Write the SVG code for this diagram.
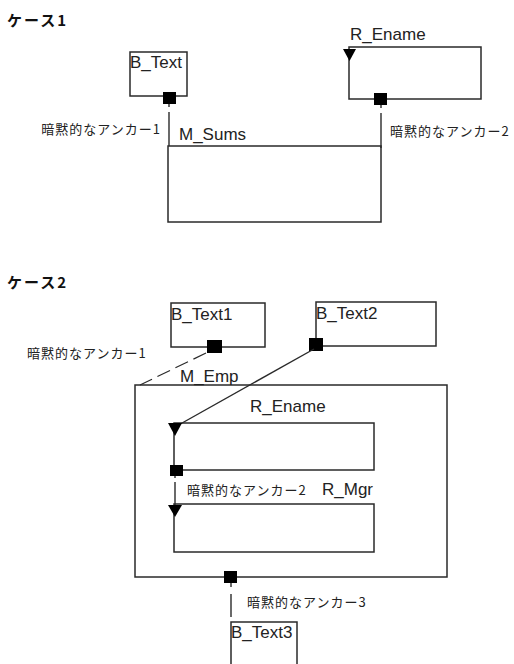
<svg xmlns="http://www.w3.org/2000/svg" width="514" height="664" viewBox="0 0 514 664">
<style>
.bg{fill:#ffffff}
.box{fill:#ffffff;stroke:#2a2a2a;stroke-width:1.5}
.ln{stroke:#2a2a2a;stroke-width:1.4;fill:none}
.dash{stroke:#2a2a2a;stroke-width:1.2;fill:none;stroke-dasharray:14 6}
.anc{fill:#000000}
.tri{fill:#000000}
.title{font-family:"Noto Sans CJK JP","Noto Sans",sans-serif;font-weight:bold;font-size:15px;letter-spacing:2px;fill:#111}
.lbl{font-family:"Liberation Sans",Arial,sans-serif;font-size:17px;fill:#222}
.jp{font-family:"Noto Sans CJK JP",sans-serif;font-size:13px;letter-spacing:1px;fill:#222}
</style>
<rect class="bg" x="0" y="0" width="514" height="664"/>

<text class="title" x="7" y="26">ケース1</text>
<text class="title" x="7" y="288">ケース2</text>

<g id="case1-B_Text">
<rect class="box" x="130" y="52" width="57" height="44"/>
<text class="lbl" x="130" y="68">B_Text</text>
</g>
<g id="case1-R_Ename">
<rect class="box" x="349" y="47" width="132" height="52"/>
<text class="lbl" x="350" y="40">R_Ename</text>
</g>
<g id="case1-M_Sums">
<rect class="box" x="168" y="146" width="213" height="76"/>
<text class="lbl" x="179" y="140">M_Sums</text>
</g>

<g id="case2-B_Text1">
<rect class="box" x="171" y="303" width="94" height="44"/>
<text class="lbl" x="171" y="320">B_Text1</text>
</g>
<g id="case2-B_Text2">
<rect class="box" x="316" y="302" width="120" height="44"/>
<text class="lbl" x="316" y="319">B_Text2</text>
</g>
<g id="case2-M_Emp">
<rect class="box" x="135" y="385" width="312" height="192"/>
<text class="lbl" x="180" y="382">M_Emp</text>
</g>
<g id="case2-R_Ename">
<rect class="box" x="174" y="423" width="200" height="47"/>
<text class="lbl" x="250" y="412">R_Ename</text>
</g>
<g id="case2-R_Mgr">
<rect class="box" x="174" y="504" width="200" height="48"/>
<text class="lbl" x="322" y="495">R_Mgr</text>
</g>
<g id="case2-B_Text3">
<rect class="box" x="231" y="622" width="66" height="50"/>
<text class="lbl" x="231" y="638">B_Text3</text>
</g>

<g id="connectors">
<!-- case 1 -->
<line class="ln" x1="169" y1="104" x2="169" y2="107"/>
<line class="ln" x1="169" y1="112" x2="169" y2="146"/>
<rect class="anc" x="163" y="92" width="13" height="12"/>
<text class="jp" x="161" y="134" text-anchor="end">暗黙的なアンカー1</text>

<line class="ln" x1="381" y1="105" x2="381" y2="108"/>
<line class="ln" x1="381" y1="113" x2="381" y2="148"/>
<rect class="anc" x="374" y="93" width="13" height="12"/>
<polygon class="tri" points="343,49 356,49 349.5,61"/>
<text class="jp" x="390" y="136">暗黙的なアンカー2</text>

<!-- case 2 -->
<rect class="anc" x="207" y="340" width="15" height="13"/>
<line class="dash" x1="206" y1="353" x2="140" y2="385"/>
<text class="jp" x="27" y="358">暗黙的なアンカー1</text>

<rect class="anc" x="309" y="338" width="14" height="13"/>
<line class="ln" x1="314" y1="349" x2="175" y2="427"/>
<polygon class="tri" points="168,423 182,423 175,436"/>

<rect class="anc" x="170" y="465" width="13" height="11"/>
<line class="ln" x1="175" y1="476" x2="175" y2="478"/>
<line class="ln" x1="175" y1="482" x2="175" y2="505"/>
<polygon class="tri" points="168,505 182,505 175,517"/>
<text class="jp" x="187" y="495">暗黙的なアンカー2</text>

<rect class="anc" x="224" y="571" width="13" height="12"/>
<line class="ln" x1="231" y1="583" x2="231" y2="587"/>
<line class="ln" x1="231" y1="594" x2="231" y2="617"/>
<text class="jp" x="247" y="607">暗黙的なアンカー3</text>
</g>
</svg>
